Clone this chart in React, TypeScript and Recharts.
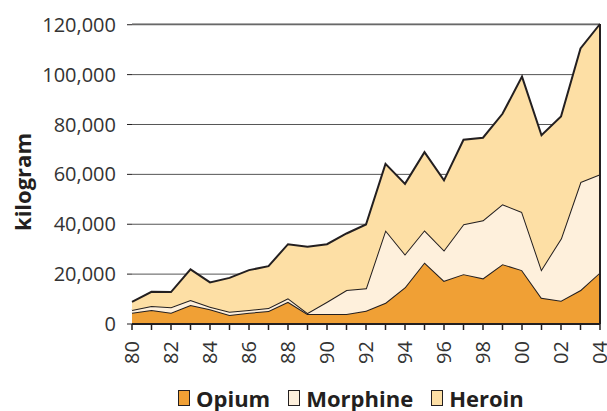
import React from "react";
import {
  AreaChart,
  Area,
  XAxis,
  YAxis,
  CartesianGrid,
  Legend,
  ReferenceLine,
} from "recharts";

const YEARS = [
  "80", "81", "82", "83", "84", "85", "86", "87", "88", "89", "90", "91", "92",
  "93", "94", "95", "96", "97", "98", "99", "00", "01", "02", "03", "04",
];
const OPIUM = [
  4500, 5600, 4500, 7600, 5900, 3600, 4500, 5200, 8900, 4000, 4000, 4000, 5300,
  8500, 14700, 24700, 17300, 20000, 18300, 24000, 21600, 10500, 9300, 13600, 20700,
];
const MORPHINE = [
  1100, 1600, 2200, 2000, 1000, 1300, 1100, 1200, 1400, 400, 4900, 9600, 9000,
  29100, 13300, 12900, 12300, 20000, 23300, 24000, 23300, 11400, 25000, 43300, 39300,
];
const HEROIN = [
  3300, 5700, 6100, 12300, 9800, 13600, 16000, 16800, 21700, 26600, 23100, 22700, 25600,
  26600, 28200, 31300, 28000, 33900, 33100, 36300, 54300, 53800, 48900, 53600, 60300,
];
const Y_TICKS = [0, 20000, 40000, 60000, 80000, 100000, 120000];

const SERIES = [
  { key: "Opium", color: "#F0A035" },
  { key: "Morphine", color: "#FEF0DC" },
  { key: "Heroin", color: "#FDDFA5" },
];

const data = YEARS.map((year, i) => ({
  year,
  Opium: OPIUM[i],
  Morphine: MORPHINE[i],
  Heroin: HEROIN[i],
}));

const FONT = "'Open Sans', sans-serif";
const INK = "#231F20";

function XTick(props: any) {
  const { x, y, payload, index } = props;
  return (
    <g>
      <line x1={x} x2={x} y1={y} y2={y + 6} stroke={INK} strokeWidth={1.5} />
      {index % 2 === 0 && (
        <text
          x={x}
          y={y + 17}
          transform={`rotate(-90, ${x}, ${y + 17})`}
          textAnchor="end"
          dy="0.36em"
          fontSize={20}
          fontFamily={FONT}
          fill="#333"
        >
          {payload.value}
        </text>
      )}
    </g>
  );
}

function YLabel() {
  return (
    <text
      x={23}
      y={182}
      transform="rotate(-90, 23, 182)"
      textAnchor="middle"
      dy="0.36em"
      fontSize={22}
      fontWeight={700}
      fontFamily={FONT}
      fill={INK}
    >
      kilogram
    </text>
  );
}

function LegendContent() {
  return (
    <div
      style={{
        display: "flex",
        paddingLeft: 178,
        gap: 18,
        fontFamily: FONT,
        fontWeight: 700,
        fontSize: 22,
        lineHeight: "22px",
        color: INK,
      }}
    >
      {SERIES.map((s) => (
        <span key={s.key} style={{ display: "flex", alignItems: "center" }}>
          <span
            style={{
              display: "inline-block",
              width: 10,
              height: 14,
              background: s.color,
              border: `1.5px solid ${INK}`,
              marginRight: 6,
            }}
          />
          {s.key}
        </span>
      ))}
    </div>
  );
}

export default function App() {
  return (
    <div style={{ position: "absolute", left: 0, top: 0, background: "#fff", overflow: "hidden", width: 607, height: 411 }}>
      <AreaChart
        width={607}
        height={411}
        data={data}
        margin={{ top: 24, right: 7, bottom: 0, left: 0 }}
      >
        <CartesianGrid vertical={false} stroke="#555" strokeWidth={1} />
        <XAxis
          dataKey="year"
          interval={0}
          tickLine={false}
          tickSize={0}
          tickMargin={0}
          tick={<XTick />}
          height={62}
          axisLine={{ stroke: INK, strokeWidth: 2 }}
        />
        <YAxis
          width={132}
          domain={[0, 120000]}
          ticks={Y_TICKS}
          axisLine={false}
          tickLine={{ stroke: INK }}
          tickSize={5}
          tickMargin={11}
          tickFormatter={(v: number) => v.toLocaleString("en-US")}
          tick={{ fontSize: 20, fontFamily: FONT, fill: "#333" }}
          label={<YLabel />}
        />
        {SERIES.map((s) => (
          <Area
            key={s.key}
            type="linear"
            dataKey={s.key}
            stackId="a"
            fill={s.color}
            fillOpacity={1}
            stroke={INK}
            strokeWidth={2}
            isAnimationActive={false}
          />
        ))}
        <ReferenceLine x="04" stroke={INK} strokeWidth={2} />
        <Legend
          verticalAlign="bottom"
          height={25}
          content={<LegendContent />}
          wrapperStyle={{ top: 387, bottom: "auto", left: 0, width: 607 }}
        />
      </AreaChart>
    </div>
  );
}
